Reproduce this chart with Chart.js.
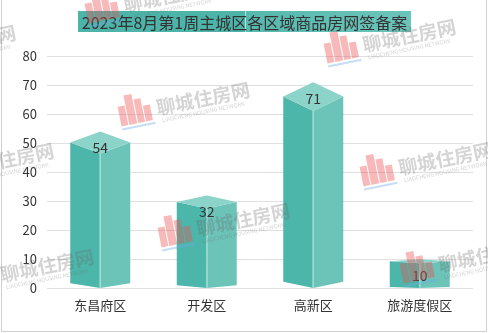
<!DOCTYPE html>
<html><head><meta charset="utf-8">
<script src="https://cdn.jsdelivr.net/npm/chart.js@4"></script>
<style>html,body{margin:0;padding:0;background:#fff;}#wrap{width:488px;height:333px;}</style>
</head><body><div id="wrap"><canvas id="c" width="488" height="333"></canvas></div>
<script>
const titleText = '2023年8月第1周主城区各区域商品房网签备案';
const categories = ['东昌府区', '开发区', '高新区', '旅游度假区'];
const values = [54, 32, 71, 10];
const yTicks = [0, 10, 20, 30, 40, 50, 60, 70, 80];
const watermarkText = '聊城住房网';
const watermarkSub = 'LIAOCHENG HOUSING NETWORK';

const FONT = '"Noto Sans CJK SC", "Noto Sans", sans-serif';

const frame = {
  id: 'frame',
  beforeDraw(chart) {
    const ctx = chart.ctx;
    ctx.save();
    ctx.fillStyle = '#fff';
    ctx.fillRect(0, 0, chart.width, chart.height);
    const bx = 78, by = 11, bw = 333, bh = 21, mid = 245;
    ctx.fillStyle = '#4db4aa';
    ctx.fillRect(bx, by, mid - bx, bh);
    const g = ctx.createLinearGradient(mid, 0, bx + bw, 0);
    g.addColorStop(0, '#56b9ae');
    g.addColorStop(1, '#6cc4ba');
    ctx.fillStyle = g;
    ctx.fillRect(mid, by, bx + bw - mid, bh);
    ctx.fillStyle = 'rgba(200,240,235,0.8)';
    ctx.fillRect(mid, by, 1, bh);
    ctx.fillStyle = '#333';
    ctx.font = '16px ' + FONT;
    ctx.textAlign = 'center';
    ctx.textBaseline = 'middle';
    ctx.fillText(titleText, 244.5, by + bh / 2 + 1);
    ctx.restore();
  },
  afterDraw(chart) {
    const ctx = chart.ctx;
    ctx.save();
    ctx.strokeStyle = '#d0d0d0';
    ctx.lineWidth = 1;
    ctx.strokeRect(1.5, -1, 485, 332.5);
    ctx.restore();
  }
};

const cube = {
  id: 'cube',
  afterDatasetsDraw(chart) {
    const ctx = chart.ctx;
    const meta = chart.getDatasetMeta(0);
    meta.data.forEach((bar, i) => {
      const cx = bar.x, yv = bar.y, yb = bar.base, w = bar.width / 2;
      const h = yb - yv, d = 0.07 * h, db = 0.03 * h;
      ctx.save();
      ctx.fillStyle = '#4db6aa';
      ctx.beginPath();
      ctx.moveTo(cx - w, yv + d); ctx.lineTo(cx, yv + 2 * d);
      ctx.lineTo(cx, yb); ctx.lineTo(cx - w, yb - db); ctx.closePath(); ctx.fill();
      ctx.fillStyle = '#6cc3b8';
      ctx.beginPath();
      ctx.moveTo(cx, yv + 2 * d); ctx.lineTo(cx + w, yv + d);
      ctx.lineTo(cx + w, yb - db); ctx.lineTo(cx, yb); ctx.closePath(); ctx.fill();
      ctx.fillStyle = '#8cd3c9';
      ctx.beginPath();
      ctx.moveTo(cx, yv); ctx.lineTo(cx + w, yv + d);
      ctx.lineTo(cx, yv + 2 * d); ctx.lineTo(cx - w, yv + d); ctx.closePath(); ctx.fill();
      ctx.fillStyle = 'rgba(190,235,228,0.9)';
      ctx.fillRect(Math.round(cx) - 0.5, yv + 2 * d, 1, yb - yv - 2 * d);
      ctx.fillStyle = '#333';
      ctx.font = '14px ' + FONT;
      ctx.textAlign = 'center';
      ctx.textBaseline = 'middle';
      ctx.fillText(String(values[i]), cx, yv + 16.5);
      ctx.restore();
    });
  }
};

function drawWatermark(ctx, ax, ay) {
  ctx.save();
  ctx.translate(ax, ay);
  ctx.rotate(-0.2);
  ctx.fillStyle = 'rgba(235,80,80,0.4)';
  const blocks = [[-38, -16, 7, 20], [-30, -26, 8, 30], [-21, -20, 7, 24], [-13, -12, 7, 16]];
  blocks.forEach(b => ctx.fillRect(b[0], b[1], b[2], b[3]));
  ctx.fillStyle = 'rgba(110,170,230,0.4)';
  ctx.fillRect(-38, 6, 34, 2);
  ctx.fillStyle = 'rgba(100,100,100,0.28)';
  ctx.font = 'bold 19px ' + FONT;
  ctx.textAlign = 'left';
  ctx.textBaseline = 'alphabetic';
  ctx.fillText(watermarkText, 0, 0);
  ctx.font = '5.5px ' + FONT;
  ctx.fillText(watermarkSub, 3, 8);
  ctx.restore();
}

const watermark = {
  id: 'watermark',
  afterDraw(chart) {
    const ctx = chart.ctx;
    const spots = [[125, 12], [364, 52], [158, 115], [400, 175], [198, 236], [440, 272], [-76, 58], [-38, 176], [2, 282]];
    spots.forEach(s => drawWatermark(ctx, s[0], s[1]));
  }
};

new Chart(document.getElementById('c'), {
  type: 'bar',
  data: {
    labels: categories,
    datasets: [{
      data: values,
      backgroundColor: 'rgba(0,0,0,0)',
      borderWidth: 0,
      barThickness: 60
    }]
  },
  options: {
    responsive: false,
    animation: false,
    devicePixelRatio: 1,
    layout: { padding: { top: 56, bottom: 11, left: 0, right: 15 } },
    plugins: { legend: { display: false }, title: { display: false }, tooltip: { enabled: false } },
    scales: {
      x: {
        grid: { display: false, drawTicks: false },
        border: { display: false },
        ticks: { color: '#333', font: { size: 13, family: FONT }, padding: 9 }
      },
      y: {
        min: 0, max: 80,
        afterBuildTicks(scale) { scale.ticks = yTicks.map(v => ({ value: v })); },
        afterFit(scale) { scale.width = 47; },
        grid: { color: '#e0e0e0', drawTicks: false },
        border: { display: false },
        ticks: { color: '#333', font: { size: 13, family: FONT }, padding: 10 }
      }
    }
  },
  plugins: [frame, cube, watermark]
});
</script>
</body></html>
